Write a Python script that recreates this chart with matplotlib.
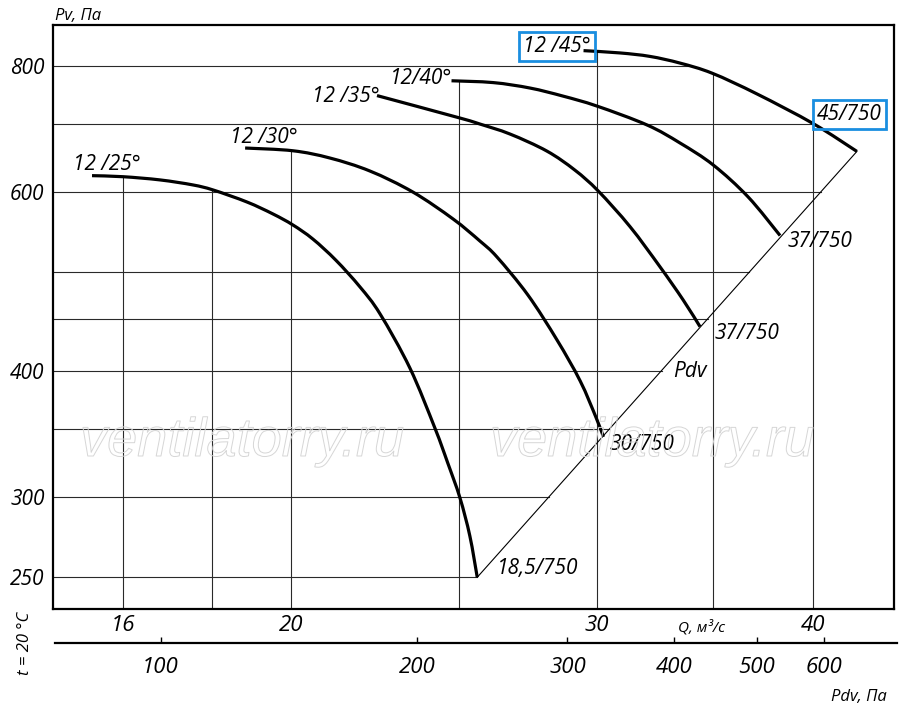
import numpy as np
import matplotlib.pyplot as plt
from matplotlib import patheffects
from matplotlib.path import Path
from matplotlib.patches import PathPatch

plt.rcParams['font.family'] = ['Open Sans', 'DejaVu Sans']
plt.rcParams['font.style'] = 'italic'

# fan curves, Q in m3/s and Pv in Pa
q_25 = [15.35, 16.0, 16.8, 17.55, 18.03, 18.86, 19.52, 20.04, 20.58, 21.22, 21.91, 22.5, 23.41, 24.2, 24.62, 25.02, 25.35, 25.6]
p_25 = [623, 621.5, 617, 610, 603, 586.7, 571, 557, 539.4, 514, 483.7, 455, 402.3, 351, 324, 299.4, 274.6, 250]
q_30 = [18.81, 20.04, 21.05, 22.2, 23.5, 24.79, 25.69, 26.28, 27.38, 28.46, 29.35, 29.98, 30.27]
p_30 = [663.4, 659.3, 648.5, 629.6, 600.3, 564.6, 537, 517.8, 475, 428.8, 390.6, 359.2, 344]
q_35 = [22.41, 25.02, 25.69, 26.74, 28.08, 29.14, 30.06, 31.36, 32.63, 33.65, 34.41]
p_35 = [747.4, 710.2, 700.6, 684.8, 658.8, 631, 601.7, 554.7, 506.4, 469.6, 442]
q_40 = [24.74, 26.15, 27.46, 28.69, 30.01, 32.08, 33.51, 35.02, 36.68, 38.27]
p_40 = [773, 769.8, 760.3, 746.5, 729.8, 699, 671, 638.3, 593.6, 543.7]
q_45 = [29.48, 30.94, 32.2, 33.51, 34.97, 37.12, 40.0, 42.38]
p_45 = [827.8, 823.5, 817, 804.7, 786.4, 750.1, 701.1, 658.3]

curves_q = [q_25, q_30, q_35, q_40, q_45]
curves_p = [p_25, p_30, p_35, p_40, p_45]
start_names = ['12 /25°', '12 /30°', '12 /35°', '12/40°', '12 /45°']
end_names = ['18,5/750', '30/750', '37/750', '37/750', '45/750']

grid_p = [250, 300, 350, 400, 450, 500, 600, 700, 800]
grid_q = [16, 18, 20, 25, 30, 35, 40]
q_ticks = [16, 20, 30, 40]
p_ticks = [250, 300, 400, 600, 800]
pdv_ticks = [100, 200, 300, 400, 500, 600]

# Pdv line goes through the end points of the first and the last curve
pdv_q = [q_25[-1], q_45[-1]]
pdv_p = [p_25[-1], p_45[-1]]


def p_at(q, qs, ps):
    lq, lp = np.log10(qs), np.log10(ps)
    x = np.log10(q)
    if x < lq.min() or x > lq.max():
        return None
    o = np.argsort(lq)
    return 10 ** np.interp(x, lq[o], lp[o])


def q_at(p, qs, ps):
    lq, lp = np.log10(qs), np.log10(ps)
    y = np.log10(p)
    if y < lp.min() or y > lp.max():
        return None
    o = np.argsort(lp)
    return 10 ** np.interp(y, lp[o], lq[o])


def smooth_path(qs, ps):
    # bezier path through the read points (catmull-rom handles in log space)
    pts = np.column_stack([np.log10(qs), np.log10(ps)])
    verts = [pts[0]]
    codes = [Path.MOVETO]
    n = len(pts)
    for i in range(n - 1):
        p0 = pts[max(i - 1, 0)]
        p1 = pts[i]
        p2 = pts[i + 1]
        p3 = pts[min(i + 2, n - 1)]
        verts += [p1 + (p2 - p0) / 6, p2 - (p3 - p1) / 6, p2]
        codes += [Path.CURVE4] * 3
    return Path(10 ** np.array(verts), codes)


fig = plt.figure(figsize=(9, 7.17), dpi=100)
ax = fig.add_axes([53 / 900, 1 - 609 / 717, 841 / 900, 584 / 717])
ax.set_xscale('log')
ax.set_yscale('log')
ax.set_xlim(14.575, 44.52)
ax.set_ylim(232.6, 877.5)

# grid, cut at the envelope of the curves and the Pdv line
x0 = ax.get_xlim()[0]
y0 = ax.get_ylim()[0]
for p in grid_p:
    ends = [q_at(p, qs, ps) for qs, ps in zip(curves_q + [pdv_q], curves_p + [pdv_p])]
    ends = [e for e in ends if e is not None]
    ax.plot([x0, max(ends)], [p, p], color='#2a2a2a', lw=0.8, zorder=1)
for q in grid_q:
    tops = [p_at(q, qs, ps) for qs, ps in zip(curves_q, curves_p)]
    tops = [t for t in tops if t is not None]
    ax.plot([q, q], [y0, max(tops)], color='#2a2a2a', lw=0.8, zorder=1)

ax.plot(pdv_q, pdv_p, color='black', lw=0.8, zorder=2)
for qs, ps in zip(curves_q, curves_p):
    ax.add_patch(PathPatch(smooth_path(qs, ps), fc='none', ec='black', lw=2.3,
                           zorder=3, capstyle='butt'))

box = dict(boxstyle='square,pad=0.2', fc='none', ec='#1a8ee0', lw=2)
start_off = [(-19, 6, 'left'), (-15, 5, 'left'), (3, -6.5, 'right'), (1, -3.3, 'right'), (7, -1.3, 'right')]
end_off = [(20, 3.3), (6, -13.3), (15, -12.3), (7, -11.2), (-40, 31.3)]
for i, (qs, ps) in enumerate(zip(curves_q, curves_p)):
    dx, dy, ha = start_off[i]
    ax.annotate(start_names[i], (qs[0], ps[0]), xytext=(dx, dy), textcoords='offset pixels',
                ha=ha, va='baseline', fontsize=15, zorder=5,
                bbox=box if i == 4 else None)
    dx, dy = end_off[i]
    ax.annotate(end_names[i], (qs[-1], ps[-1]), xytext=(dx, dy), textcoords='offset pixels',
                ha='left', va='baseline', fontsize=15, zorder=5,
                bbox=box if i == 4 else None)
ax.text(33.2, 394, 'Pdv', ha='left', va='baseline', fontsize=15)

ax.set_xticks(q_ticks, labels=[str(v) for v in q_ticks])
ax.set_yticks(p_ticks, labels=[str(v) for v in p_ticks])
ax.minorticks_off()
ax.tick_params(axis='x', length=0, pad=4, labelsize=16)
ax.tick_params(axis='y', length=0, pad=6, labelsize=15)
for s in ax.spines.values():
    s.set_linewidth(1.6)

# second scale for the dynamic pressure
ax2 = fig.add_axes([55 / 900, 1 - 643 / 717, 842 / 900, 0.0001])
ax2.set_xscale('log')
ax2.set_xlim(75.18, 730.5)
ax2.set_xticks(pdv_ticks, labels=[str(v) for v in pdv_ticks])
ax2.minorticks_off()
ax2.tick_params(axis='x', direction='in', length=4, width=1, pad=10, labelsize=16)
ax2.set_yticks([])
for k in ['left', 'right', 'top']:
    ax2.spines[k].set_visible(False)
ax2.spines['bottom'].set_linewidth(1.6)
ax2.patch.set_visible(False)

fig.text(55 / 900, 1 - 20 / 717, 'Pv, Па', fontsize=12, va='baseline')
fig.text(678 / 900, 1 - 631 / 717, 'Q, м³/с', fontsize=11, va='baseline')
fig.text(887 / 900, 1 - 701 / 717, 'Pdv, Па', fontsize=12, ha='right', va='baseline')
fig.text(25 / 900, 1 - 643 / 717, 't = 20 °C', fontsize=12, rotation=90, ha='center', va='center')

for wx in [80, 490]:
    fig.text(wx / 900, 1 - 456 / 717, 'ventilatorry.ru', family='Liberation Sans', style='italic',
             fontsize=39, color=(1, 1, 1, 0), zorder=0.5,
             path_effects=[patheffects.Stroke(linewidth=0.7, foreground='#d6d6d6')])

fig.savefig('out.png', dpi=100)
